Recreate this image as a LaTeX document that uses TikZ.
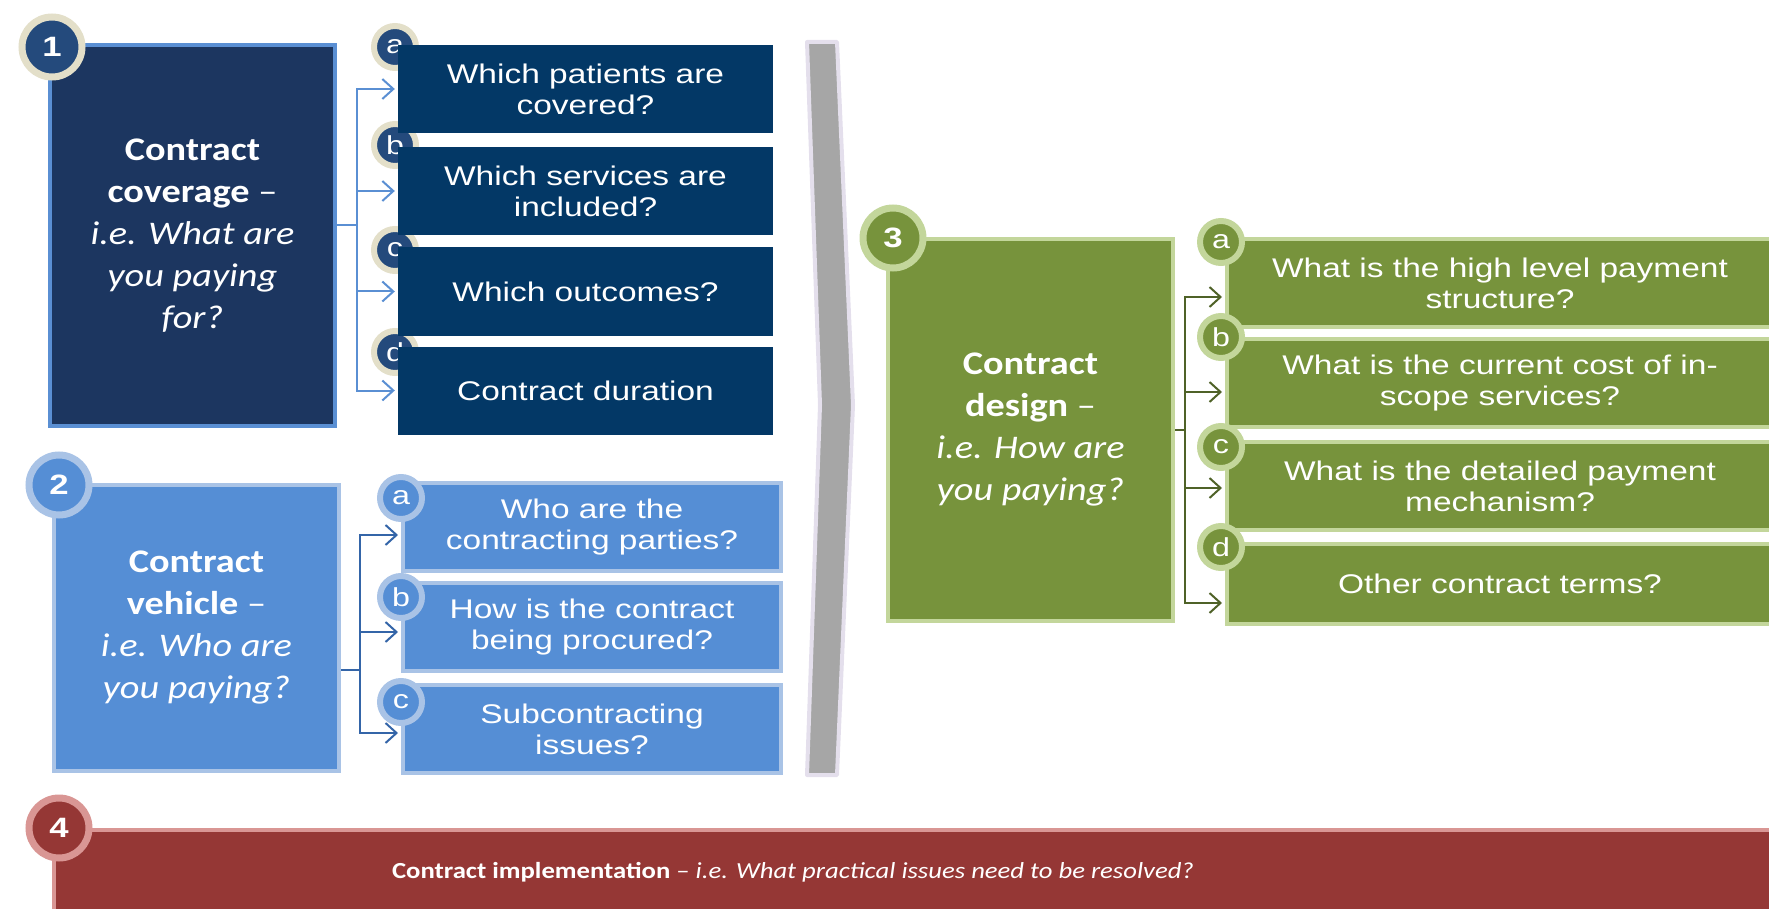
\documentclass[tikz,border=0pt]{standalone}
\usepackage{fontspec}
\setmainfont{Liberation Sans}[FakeStretch=1.24]
\newfontfamily\carl{Carlito}[FakeStretch=1.16,Ligatures=TeX]
\usetikzlibrary{arrows.meta}
\definecolor{navyA}{HTML}{1C3660}
\definecolor{navyB}{HTML}{033866}
\definecolor{navyC}{HTML}{244A7C}
\definecolor{navyEdge}{HTML}{5A8FD3}
\definecolor{cream}{HTML}{E3DFC9}
\definecolor{blueA}{HTML}{558ED5}
\definecolor{blueEdge}{HTML}{A9C3E6}
\definecolor{blueLine}{HTML}{3465A8}
\definecolor{oliveA}{HTML}{77933C}
\definecolor{oliveEdge}{HTML}{C3D69B}
\definecolor{oliveLine}{HTML}{4F6228}
\definecolor{chevGray}{HTML}{A6A6A6}
\definecolor{chevEdge}{HTML}{E4DFEC}
\definecolor{redA}{HTML}{953735}
\definecolor{redEdge}{HTML}{D99694}
\begin{document}
\begin{tikzpicture}[x=1pt,y=-1pt,
    mainbox/.style={rectangle,line width=4pt,minimum width=285pt,inner sep=0pt,align=center,text=white,font=\carl\fontsize{33}{42}\selectfont},
    subbox/.style={rectangle,minimum height=88pt,inner sep=0pt,align=center,text=white,font=\fontsize{27}{31}\selectfont},
    numdot/.style={circle,minimum size=60pt,line width=7pt,inner sep=0pt,text=white,font=\bfseries\fontsize{28}{28}\selectfont},
    letdot/.style={circle,minimum size=42pt,line width=6pt,inner sep=0pt,text=white,font=\fontsize{26}{26}\selectfont},
    link/.style={line width=2pt},
    tip/.style={-{Straight Barb[length=11pt,width=20pt]}}]
    \useasboundingbox (0,0) rectangle (1769,909);
    \draw[line width=4pt,draw=chevEdge,fill=chevGray,line join=round] (807,42) -- (837,42) -- (853,405) -- (837,775) -- (807,775) -- (820,405) -- cycle;

    \node[mainbox,minimum height=381pt,fill=navyA,draw=navyEdge] (m1) at (192.5,235.5) {\textbf{Contract}\\\textbf{coverage} --\\\textit{i.e. What are}\\\textit{you paying}\\\textit{for?}};
    \foreach \s/\y in {a/47,b/145,c/250,d/352}
        \node[letdot,fill=navyC,draw=cream] (d1\s) at (395,\y) {\s};
    \node[subbox,minimum width=375pt,fill=navyB] (s1a) at (585.5,89) {Which patients are\\covered?};
    \node[subbox,minimum width=375pt,fill=navyB] (s1b) at (585.5,191) {Which services are\\included?};
    \node[subbox,minimum width=375pt,fill=navyB] (s1c) at (585.5,291.5) {Which outcomes?};
    \node[subbox,minimum width=375pt,fill=navyB] (s1d) at (585.5,390.5) {Contract duration};
    \draw[link,navyEdge] ([yshift=10pt]m1.east) -- ++(20,0) coordinate (t1);
    \foreach \s in {a,b,c,d}
        \draw[link,tip,navyEdge] (t1) |- ([xshift=-3pt]s1\s.west);
    \node[numdot,fill=navyC,draw=cream] (n1) at (52,47) {1};

    \node[mainbox,minimum height=286pt,fill=blueA,draw=blueEdge] (m2) at (196.5,628) {\textbf{Contract}\\\textbf{vehicle} --\\\textit{i.e. Who are}\\\textit{you paying?}};
    \node[subbox,minimum width=378pt,fill=blueA,draw=blueEdge,line width=4pt] (s2a) at (592,527) {Who are the\\contracting parties?};
    \node[subbox,minimum width=378pt,fill=blueA,draw=blueEdge,line width=4pt] (s2b) at (592,627) {How is the contract\\being procured?};
    \node[subbox,minimum width=378pt,fill=blueA,draw=blueEdge,line width=4pt] (s2c) at (592,729) {Subcontracting\\issues?};
    \draw[link,blueLine] ([yshift=-42pt]m2.east) -- ++(19,0) coordinate (t2);
    \foreach \s/\dy in {a/8,b/5,c/4}
        \draw[link,tip,blueLine] (t2) |- ([xshift=-3pt,yshift=-\dy pt]s2\s.west);
    \foreach \s/\y in {a/498,b/597,c/702}
        \node[letdot,fill=blueA,draw=blueEdge] (d2\s) at (401,\y) {\s};
    \node[numdot,fill=blueA,draw=blueEdge] (n2) at (59,485) {2};

    \node[mainbox,minimum height=382pt,fill=oliveA,draw=oliveEdge] (m3) at (1030.5,430) {\textbf{Contract}\\\textbf{design} --\\\textit{i.e. How are}\\\textit{you paying?}};
    \node[subbox,minimum width=546pt,fill=oliveA,draw=oliveEdge,line width=4pt] (s3a) at (1500,283) {What is the high level payment\\structure?};
    \node[subbox,minimum width=546pt,fill=oliveA,draw=oliveEdge,line width=4pt] (s3b) at (1500,383) {What is the current cost of in-\\scope services?};
    \node[subbox,minimum width=546pt,fill=oliveA,draw=oliveEdge,line width=4pt] (s3c) at (1500,486) {What is the detailed payment\\mechanism?};
    \node[subbox,minimum width=546pt,minimum height=80pt,fill=oliveA,draw=oliveEdge,line width=4pt] (s3d) at (1500,584) {Other contract terms?};
    \draw[link,oliveLine] (m3.east) -- ++(10,0) coordinate (t3);
    \foreach \s/\dy in {a/14,b/9,c/2,d/19}
        \draw[link,tip,oliveLine] (t3) |- ([xshift=-3pt,yshift=-\dy pt]s3\s.west);
    \foreach \s/\y in {a/242,b/337,c/447,d/547}
        \node[letdot,fill=oliveA,draw=oliveEdge] (d3\s) at (1221,\y) {\s};
    \node[numdot,fill=oliveA,draw=oliveEdge] (n3) at (893,238) {3};

    \draw[line width=4pt,fill=redA,draw=redEdge] (54,830) rectangle (1800,940);
    \node[text=white,font=\carl\fontsize{23}{27}\selectfont] (m4) at (793,872) {\textbf{Contract implementation} -- \textit{i.e. What practical issues need to be resolved?}};
    \node[numdot,fill=redA,draw=redEdge] (n4) at (59,828) {4};
\end{tikzpicture}
\end{document}
